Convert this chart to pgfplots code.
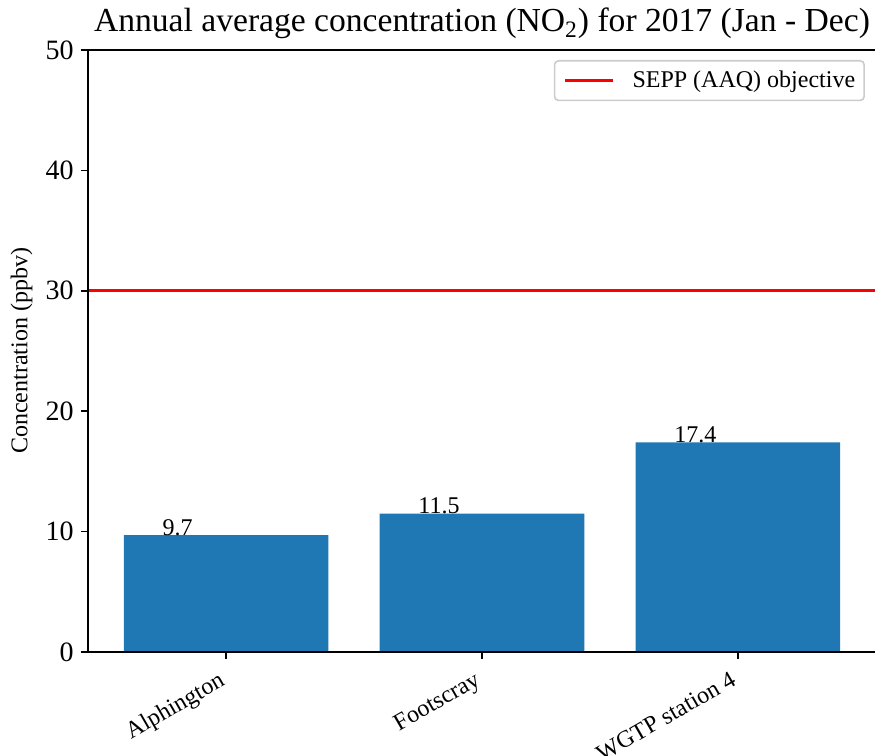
\documentclass[border=0pt]{standalone}
\usepackage{fontspec}
\setmainfont{Liberation Serif}
\usepackage{pgfplots}
\pgfplotsset{compat=1.18}
\definecolor{mplblue}{HTML}{1F77B4}
\begin{document}
\begin{tikzpicture}
\begin{axis}[
  scale only axis, width=394pt, height=301pt,
  xmin=-0.54, xmax=2.54, ymin=0, ymax=50,
  axis x line*=box, axis y line*=left,
  axis line style={line width=0.8pt, black},
  axis on top,
  xtick={0,1,2}, xticklabels={Alphington, Footscray, WGTP station 4},
  xtick pos=left, ytick pos=left,
  ytick={0,10,20,30,40,50},
  tick align=outside, major tick length=3.5pt,
  every tick/.style={black, line width=0.8pt},
  /pgf/number format/assume math mode=true,
  xticklabel style={font=\fontsize{12}{14}\selectfont, xshift=-4.25pt, yshift=-5.5pt, rotate=30, anchor=north east, inner sep=0pt},
  yticklabel style={font=\fontsize{14}{16}\selectfont, anchor=east, inner sep=0pt, xshift=-3.5pt},
  ylabel={Concentration (ppbv)},
  ylabel style={at={([xshift=-27.5pt]axis description cs:0,0.5)}, anchor=south, rotate=0, inner sep=0pt, font=\fontsize{12}{14}\selectfont},
  title={Annual average concentration (NO\textsubscript{2}) for 2017 (Jan - Dec)},
  title style={at={(axis description cs:0.5,1)}, anchor=base, yshift=3pt, inner sep=0pt, font=\fontsize{16.8}{19}\selectfont},
  legend style={at={(axis description cs:1,1)}, anchor=north east, xshift=-5.5pt, yshift=-5pt,
    draw=black!20, rounded corners=2pt, line width=0.8pt, font=\fontsize{12}{14}\selectfont,
    inner xsep=4.5pt, inner ysep=5pt, nodes={inner sep=0pt}},
  legend cell align=left,
  legend image code/.code={\draw[#1] (0pt,0pt) -- (24pt,0pt); \path (33pt,0pt);},
]
\addplot[ybar, bar width=0.8, fill=mplblue, draw=none, forget plot]
  coordinates {(0,9.7) (1,11.5) (2,17.4)};
\addplot[draw=none, mark=none, forget plot, nodes near coords, point meta=explicit symbolic,
  every node near coord/.append style={anchor=base west, inner sep=0pt, font=\fontsize{12}{14}\selectfont}]
  table[meta=lab] {
x y lab
-0.25 9.7 9.7
0.75 11.5 11.5
1.75 17.4 17.4
};
\addplot[red, line width=1.5pt] coordinates {(-0.54,30) (2.54,30)};
\addlegendentry{SEPP (AAQ) objective}
\end{axis}
\pgfresetboundingbox
\path[use as bounding box] ([xshift=-44pt,yshift=-52pt]current axis.south west) rectangle ([xshift=-0.5pt,yshift=25pt]current axis.north east);
\end{tikzpicture}
\end{document}
